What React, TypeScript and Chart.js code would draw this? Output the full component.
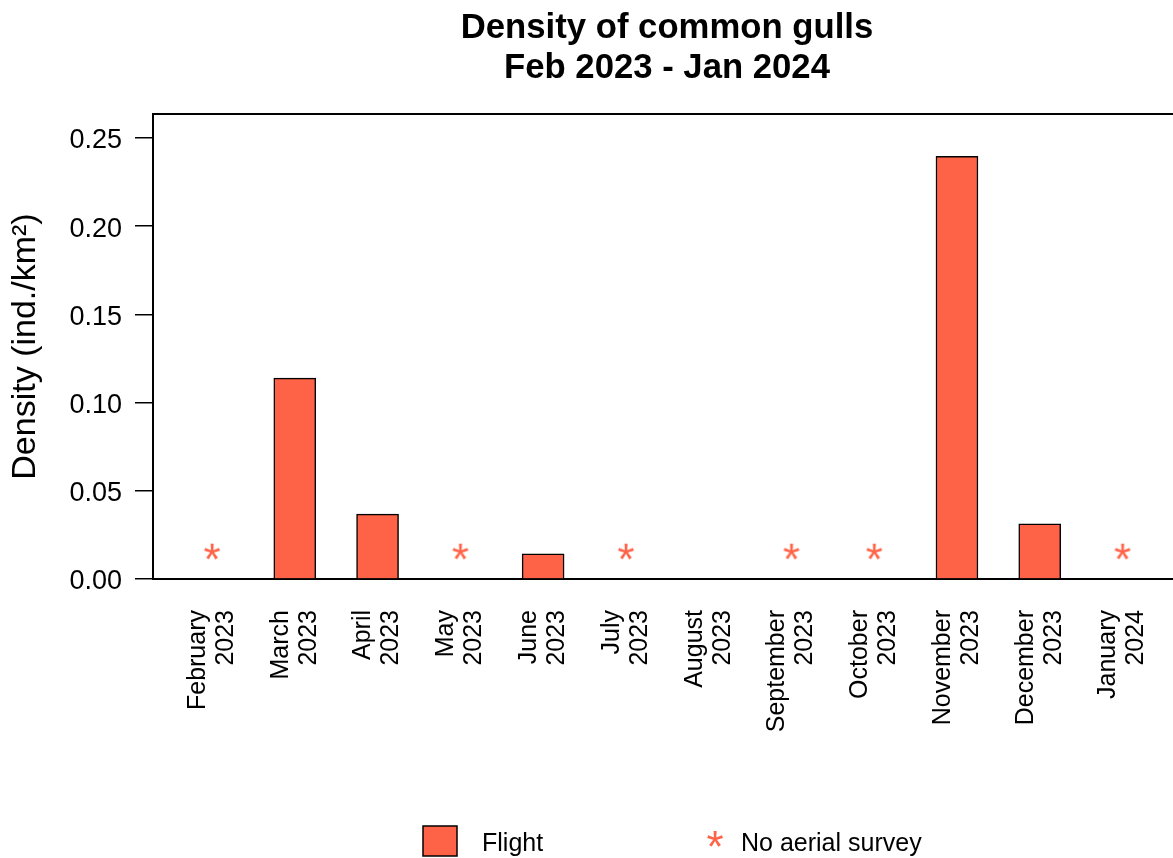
import React, { useEffect, useRef } from 'react';
import { Chart, registerables } from 'chart.js';

Chart.register(...registerables);

// ---- data ----
const months = ['February', 'March', 'April', 'May', 'June', 'July', 'August', 'September', 'October', 'November', 'December', 'January'];
const years = ['2023', '2023', '2023', '2023', '2023', '2023', '2023', '2023', '2023', '2023', '2023', '2024'];
const density: (number | null)[] = [null, 0.1139, 0.0368, null, 0.0142, null, 0, null, null, 0.2396, 0.0312, null];
const noSurvey: boolean[] = [true, false, false, true, false, true, false, true, true, false, false, true];
const noSurveyMarkerLevel = 0.0155;
const yTicks = [0, 0.05, 0.1, 0.15, 0.2, 0.25];
const titleLines = ['Density of common gulls', 'Feb 2023 - Jan 2024'];
const yTitle = 'Density (ind./km²)';
const flightLabel = 'Flight';
const noSurveyLabel = 'No aerial survey';

const BAR_COLOR = '#FF6347';
const FONT = '"Liberation Sans", Arial, Helvetica, sans-serif';

function makeAsterisk(): HTMLCanvasElement {
  const c = document.createElement('canvas');
  c.width = 24;
  c.height = 24;
  const g = c.getContext('2d')!;
  g.font = `44px ${FONT}`;
  g.fillStyle = BAR_COLOR;
  g.textAlign = 'center';
  g.textBaseline = 'alphabetic';
  const m = g.measureText('*');
  const asc = m.actualBoundingBoxAscent || 30;
  const desc = m.actualBoundingBoxDescent || -18;
  const yOff = 12 + (asc - desc) / 2;
  const l = m.actualBoundingBoxLeft || 0;
  const r = m.actualBoundingBoxRight || 0;
  const xOff = 12 + (l - r) / 2;
  g.fillText('*', xOff, yOff);
  return c;
}

export default function App() {
  const ref = useRef<HTMLCanvasElement | null>(null);

  useEffect(() => {
    if (!ref.current) return;
    const star = makeAsterisk();
    const yMax = Math.max(...(density.filter((v) => v !== null) as number[])) * 1.1;

    const decor = {
      id: 'decor',
      afterDraw(chart: any) {
        const { ctx, chartArea, scales } = chart;
        ctx.save();
        // top frame line
        ctx.strokeStyle = '#000';
        ctx.lineWidth = 2;
        ctx.beginPath();
        ctx.moveTo(chartArea.left - 1, chartArea.top);
        ctx.lineTo(chartArea.right, chartArea.top);
        ctx.stroke();

        // title
        ctx.fillStyle = '#000';
        ctx.font = `bold 34.7px ${FONT}`;
        ctx.textAlign = 'center';
        ctx.textBaseline = 'alphabetic';
        ctx.fillText(titleLines[0], 667, 38);
        ctx.fillText(titleLines[1], 667, 78);

        // x labels
        ctx.font = `25px ${FONT}`;
        months.forEach((m, i) => {
          const px = scales.x.getPixelForValue(i);
          ctx.save();
          ctx.translate(px, chartArea.bottom + 31);
          ctx.rotate(-Math.PI / 2);
          ctx.textAlign = 'right';
          ctx.textBaseline = 'middle';
          ctx.fillText(m, 0, -14);
          ctx.fillText(years[i], 0, 14);
          ctx.restore();
        });

        // legend
        const ds0 = chart.data.datasets[0];
        const ds1 = chart.data.datasets[1];
        ctx.fillStyle = ds0.backgroundColor;
        ctx.fillRect(423, 826, 34, 30);
        ctx.strokeStyle = '#000';
        ctx.lineWidth = 1.5;
        ctx.strokeRect(423, 826, 34, 30);
        ctx.fillStyle = '#000';
        ctx.font = `25px ${FONT}`;
        ctx.textAlign = 'left';
        ctx.textBaseline = 'alphabetic';
        ctx.fillText(ds0.label, 482, 851);
        ctx.drawImage(star, 715 - star.width / 2, 839 - star.height / 2);
        ctx.fillText(ds1.label, 741, 851);
        ctx.restore();
      },
    };

    const chart = new Chart(ref.current, {
      type: 'bar',
      data: {
        datasets: [
          {
            type: 'bar',
            label: flightLabel,
            data: months.map((_, i) => ({ x: i, y: density[i] })) as any,
            backgroundColor: BAR_COLOR,
            borderColor: '#000',
            borderWidth: 1.5,
            barThickness: 42,
          } as any,
          {
            type: 'scatter',
            label: noSurveyLabel,
            data: months
              .map((_, i) => (noSurvey[i] ? { x: i, y: noSurveyMarkerLevel } : null))
              .filter((d) => d !== null) as any,
            pointStyle: star,
            pointRadius: 12,
            backgroundColor: BAR_COLOR,
            borderColor: BAR_COLOR,
          } as any,
        ],
      },
      options: {
        animation: false,
        responsive: false,
        devicePixelRatio: 1,
        layout: { autoPadding: false, padding: { top: 114, right: 0, left: 0, bottom: 0 } },
        plugins: {
          legend: { display: false },
          tooltip: { enabled: false },
          title: { display: false },
        },
        scales: {
          x: {
            type: 'linear',
            offset: false,
            min: -0.713,
            max: 11.61,
            ticks: { display: false },
            grid: { display: false },
            border: { display: true, color: '#000', width: 2 },
            afterFit: (s: any) => {
              s.height = 279;
            },
          },
          y: {
            min: 0,
            max: yMax,
            afterBuildTicks: (s: any) => {
              s.ticks = yTicks.map((v) => ({ value: v }));
            },
            ticks: {
              callback: (v: any) => Number(v).toFixed(2),
              font: { size: 27, family: FONT },
              color: '#000',
              padding: 13,
              labelOffset: 3,
            },
            grid: {
              display: true,
              drawOnChartArea: false,
              drawTicks: true,
              tickLength: 18,
              color: '#000',
              lineWidth: 1.5,
            },
            border: { display: true, color: '#000', width: 2 },
            title: {
              display: true,
              text: yTitle,
              color: '#000',
              font: { size: 34, family: FONT },
              padding: { top: 5, bottom: 0 },
            },
            afterFit: (s: any) => {
              s.width = 153;
            },
          },
        },
      } as any,
      plugins: [decor],
    });

    return () => chart.destroy();
  }, []);

  return (
    <div style={{ position: 'absolute', left: 0, top: 0, width: 1173, height: 858, background: '#fff' }}>
      <canvas ref={ref} width={1173} height={858} style={{ display: 'block' }} />
    </div>
  );
}
